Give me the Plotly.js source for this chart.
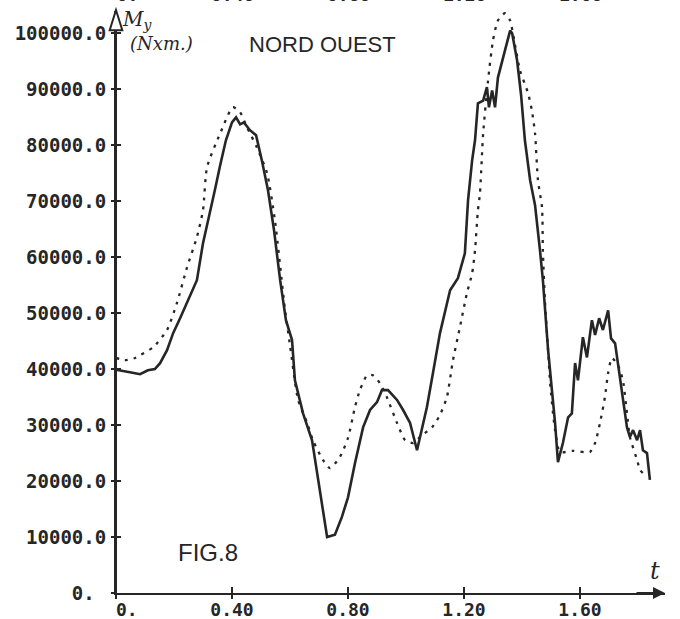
<!DOCTYPE html>
<html>
<head>
<meta charset="utf-8">
<script src="https://cdn.plot.ly/plotly-3.0.1.min.js"></script>
<style>html,body{margin:0;padding:0;background:#fff;}#chart{width:680px;height:619px;}</style>
</head>
<body>
<div id="chart"></div>
<script>
// time (s) and moment My (N x m)
const tMeasured = [0.000,0.014,0.048,0.083,0.110,0.134,0.152,0.176,0.197,0.221,0.245,0.279,0.300,0.324,0.341,0.359,0.379,0.400,0.414,0.428,0.441,0.462,0.483,0.503,0.524,0.545,0.566,0.586,0.607,0.617,0.645,0.676,0.703,0.728,0.755,0.779,0.800,0.824,0.852,0.876,0.900,0.917,0.938,0.969,0.990,1.014,1.038,1.055,1.072,1.093,1.117,1.152,1.179,1.203,1.214,1.228,1.238,1.248,1.266,1.279,1.286,1.297,1.307,1.317,1.341,1.359,1.366,1.383,1.397,1.410,1.428,1.445,1.462,1.472,1.490,1.514,1.524,1.541,1.559,1.572,1.583,1.593,1.610,1.624,1.641,1.652,1.666,1.679,1.697,1.707,1.721,1.738,1.762,1.772,1.783,1.797,1.807,1.817,1.831,1.841];
const mMeasured = [39900,39800,39460,39100,39800,40000,41070,43400,46430,49100,51800,55900,62500,67860,72000,76400,80900,84100,85000,83750,84100,82700,81800,77300,72000,64800,55900,48750,45200,38000,32100,27300,18400,10000,10400,13600,17100,23200,29600,32700,34100,36250,36250,34500,32700,30400,25500,29600,33200,39300,46400,54100,56250,60700,70200,77300,80900,87500,88000,90400,86800,89800,86800,92100,97000,100500,100000,95200,88900,80900,73750,69300,61250,55900,43400,30400,23400,26800,31400,32100,41100,38000,45700,42100,48750,46100,49100,47000,50500,45500,44600,38000,29600,27900,29100,27300,29100,25500,25000,20200];

const tComputed = [0.000,0.031,0.066,0.083,0.128,0.176,0.210,0.245,0.279,0.300,0.314,0.359,0.403,0.428,0.452,0.486,0.521,0.548,0.583,0.600,0.628,0.659,0.679,0.714,0.738,0.772,0.800,0.824,0.841,0.866,0.886,0.910,0.934,0.969,0.997,1.024,1.055,1.090,1.117,1.141,1.162,1.186,1.210,1.228,1.238,1.248,1.255,1.266,1.283,1.300,1.317,1.341,1.359,1.376,1.393,1.421,1.434,1.445,1.455,1.469,1.472,1.479,1.490,1.497,1.514,1.531,1.576,1.634,1.652,1.669,1.686,1.697,1.710,1.731,1.748,1.762,1.772,1.797,1.807,1.831];
const mComputed = [42000,41600,42000,42500,43900,47000,51800,58200,63600,68400,76100,82100,86800,85900,83200,79600,75000,66600,50500,44300,34500,30400,27300,23750,22300,24300,27700,33200,36250,38900,38900,37500,35000,30400,27300,26800,28200,29600,31800,35000,41600,47500,53600,57100,61250,68400,71400,82100,91600,98750,102300,103600,102300,97900,93400,89300,86250,82100,73750,68900,61250,52300,43400,37500,29100,25200,25400,25200,26800,30400,35000,39300,42000,40700,38000,32100,27900,23750,22000,20700];

const xTickVals = [0, 0.4, 0.8, 1.2, 1.6];
const xTickText = ['\u00a0\u00a00.', '0.40', '0.80', '1.20', '1.60'];
const yTickVals = [0,10000,20000,30000,40000,50000,60000,70000,80000,90000,100000];
const yTickText = ['0.\u00a0','10000.0','20000.0','30000.0','40000.0','50000.0','60000.0','70000.0','80000.0','90000.0','100000.0'];

const ink = '#262626';
const tickFont = {family: 'DejaVu Sans Mono', size: 19, color: ink, weight: 'bold'};
const xTickFont = {family: 'DejaVu Sans Mono', size: 18, color: ink, weight: 'bold'};

const traces = [
  {x: tComputed, y: mComputed, type: 'scatter', mode: 'lines', name: 'calcul',
   line: {color: ink, width: 2.3, dash: '3px,6px', shape: 'spline', smoothing: 0.6}, hoverinfo: 'skip'},
  {x: tMeasured, y: mMeasured, type: 'scatter', mode: 'lines', name: 'mesure',
   line: {color: ink, width: 2.6}, hoverinfo: 'skip'},
  {x: [null], y: [null], xaxis: 'x2', yaxis: 'y2', type: 'scatter', mode: 'lines', showlegend: false, hoverinfo: 'skip'}
];

const xr = [0, 549/290];
const yr = [0, 104000];

const ann = [];
xTickVals.forEach((v, i) => {
  ann.push({x: v, xref: 'x', y: 1.0285, yref: 'paper', text: xTickText[i], showarrow: false,
            font: xTickFont, xanchor: 'center', yanchor: 'middle'});
});
ann.push({x: 0.377, y: 0.9416, xref: 'paper', yref: 'paper', text: 'NORD OUEST', showarrow: false,
          font: {family: 'Liberation Sans', size: 22, color: ink}, xanchor: 'center', yanchor: 'middle'});
ann.push({x: 0.168, y: 0.0704, xref: 'paper', yref: 'paper', text: 'FIG.8', showarrow: false,
          font: {family: 'Liberation Sans', size: 24, color: ink}, xanchor: 'center', yanchor: 'middle'});
ann.push({x: 0.008, y: 0.985, xref: 'paper', yref: 'paper', text: 'M<sub>y</sub>', showarrow: false,
          font: {family: 'DejaVu Serif', size: 20, color: ink, style: 'italic'}, xanchor: 'left', yanchor: 'middle'});
ann.push({x: 0.022, y: 0.945, xref: 'paper', yref: 'paper', text: '(Nxm.)', showarrow: false,
          font: {family: 'DejaVu Serif', size: 18, color: ink, style: 'italic'}, xanchor: 'left', yanchor: 'middle'});
ann.push({x: 0.982, y: 0.038, xref: 'paper', yref: 'paper', text: 't', showarrow: false,
          font: {family: 'DejaVu Serif', size: 24, color: ink, style: 'italic'}, xanchor: 'center', yanchor: 'middle'});
// x axis arrow
ann.push({x: 1.0, y: 0, xref: 'paper', yref: 'paper', ax: -30, ay: 0, text: '', showarrow: true,
          arrowhead: 2, arrowsize: 1.2, arrowwidth: 2, arrowcolor: ink});

const layout = {
  width: 680, height: 619,
  margin: {l: 116, r: 15, t: 11, b: 26, pad: 0},
  paper_bgcolor: '#ffffff', plot_bgcolor: '#ffffff',
  showlegend: false,
  xaxis: {range: xr, showline: true, linecolor: ink, linewidth: 2, zeroline: false, showgrid: false,
          ticks: 'inside', ticklen: 6, tickwidth: 2, tickcolor: ink,
          tickvals: xTickVals, ticktext: xTickText, tickfont: xTickFont, ticklabelstandoff: -1},
  yaxis: {range: yr, showline: true, linecolor: ink, linewidth: 2, zeroline: false, showgrid: false,
          ticks: 'inside', ticklen: 5, tickwidth: 2, tickcolor: ink,
          tickvals: yTickVals, ticktext: yTickText, tickfont: tickFont, ticklabelstandoff: 4},
  xaxis2: {range: xr, overlaying: 'x', anchor: 'y2', showline: false, zeroline: false, showgrid: false,
           ticks: 'outside', ticklen: 5, tickwidth: 2, tickcolor: ink, tickvals: xTickVals, showticklabels: false},
  yaxis2: {range: yr, overlaying: 'y', anchor: 'x2', showline: false, zeroline: false, showgrid: false,
           ticks: 'outside', ticklen: 4, tickwidth: 2, tickcolor: ink, tickvals: yTickVals, showticklabels: false},
  shapes: [
    {type: 'path', xref: 'paper', yref: 'paper', path: 'M0,1.0017 L-0.0115,0.967 L0.0115,0.967 Z',
     line: {color: ink, width: 2}, fillcolor: '#ffffff', layer: 'above'},
    {type: 'line', xref: 'paper', yref: 'paper', x0: 0, x1: 0, y0: 0, y1: 0.967, line: {color: ink, width: 2}}
  ],
  annotations: ann
};

Plotly.newPlot('chart', traces, layout, {staticPlot: true, displayModeBar: false});
</script>
</body>
</html>
